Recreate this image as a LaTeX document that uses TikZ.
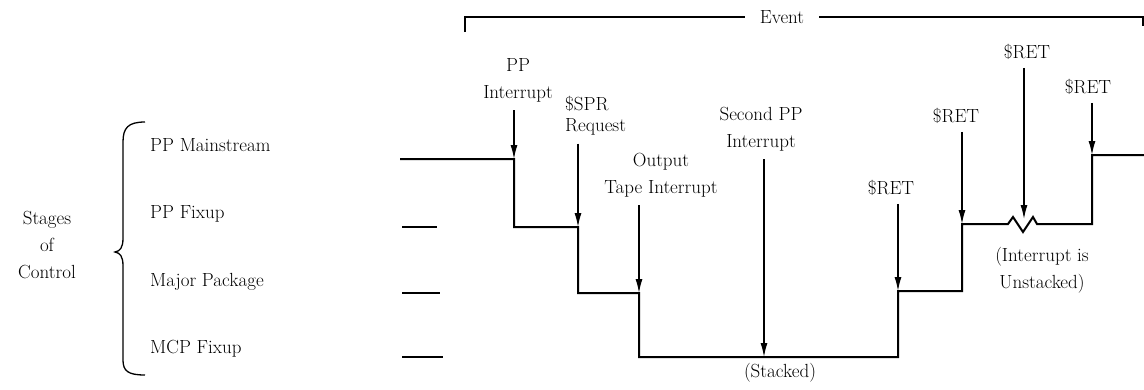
\documentclass[tikz,border=0pt]{standalone}
\usepackage{tikz}
\usetikzlibrary{arrows.meta}

\begin{document}
\begin{tikzpicture}[x=1pt,y=-1pt,
  lbl/.style={font=\fontsize{19}{27}\selectfont,inner sep=2pt,align=center},
  arr/.style={-{Latex[length=14pt,width=7pt]},line width=1.3pt,shorten <=6pt},
  lvl/.style={line width=2pt,line join=miter},
  rule/.style={line width=1.6pt}]
\useasboundingbox (0,0) rectangle (1144,389);
% level labels
\node[lbl] (stages) at (47,245) {Stages\\of\\Control};
\node[lbl,anchor=west] (ppm) at (148,145) {PP Mainstream};
\node[lbl,anchor=west] (ppf) at (148,214) {PP Fixup};
\node[lbl,anchor=west] (mjp) at (148,282) {Major Package};
\node[lbl,anchor=west] (mcp) at (148,349) {MCP Fixup};
\draw[line width=1.3pt] (145,122) .. controls (128,122) and (123,128) .. (123,142)
  -- (123,238) .. controls (123,248) and (120,251) .. (115,252)
  .. controls (120,253) and (123,256) .. (123,266)
  -- (123,360) .. controls (123,371) and (128,375) .. (145,375);
% event bracket
\node[lbl,inner xsep=15pt] (event) at (782,17) {Event};
\coordinate (evl) at (465,32);
\coordinate (evr) at (1143,26);
\draw[rule] (evl) |- (event.west);
\draw[rule] (event.east) -| (evr);
% short marks for the lower levels
\draw[rule] (402,227) -- (437,227);
\draw[rule] (402,293) -- (440,293);
\draw[rule] (402,357) -- (443,357);
% stepped line
\coordinate (s0) at (400,159);
\coordinate (s1) at (514,159);
\coordinate (s2) at (578,227);
\coordinate (s3) at (639,293);
\coordinate (s4) at (764,357);
\coordinate (s5) at (898,291);
\coordinate (s6) at (962,224);
\coordinate (s7) at (1024,219);
\coordinate (s8) at (1092,155);
\draw[lvl] (s0) -- (s1) |- (s2) |- (s3) |- (639,357) -- (898,357) -- (s5)
  -- (s6 |- s5) -- (s6) -- (1008,224) -- (1013,217) -- (1023,232) -- (1033,217)
  -- (1037,224) -- (1092,224) -- (s8) -- (1144,155);
% events
\node[lbl] (ppi) at (518,80) {PP\\Interrupt};
\node[lbl,align=left,anchor=west] (spr) at (563,116) {\$SPR\\[-6pt]Request};
\node[lbl] (oti) at (661,175) {Output\\Tape Interrupt};
\node[lbl] (spp) at (761,129) {Second PP\\Interrupt};
\node[lbl] (reta) at (891,188) {\$RET};
\node[lbl] (retb) at (956,116) {\$RET};
\node[lbl] (retc) at (1027,52) {\$RET};
\node[lbl] (retd) at (1088,87) {\$RET};
\node[lbl] (stk) at (780,373) {(Stacked)};
\node[lbl] (uns) at (1042,270) {(Interrupt is\\Unstacked)};
\draw[arr] (ppi.south -| s1) -- (s1);
\draw[arr] (spr.south -| s2) -- (s2);
\draw[arr] (oti.south -| s3) -- (s3);
\draw[arr] (spp.south -| s4) -- (s4);
\draw[arr] (reta.south -| s5) -- (s5);
\draw[arr] (retb.south -| s6) -- (s6);
\draw[arr] (retc.south -| s7) -- (s7);
\draw[arr] (retd.south -| s8) -- (s8);
\end{tikzpicture}
\end{document}
